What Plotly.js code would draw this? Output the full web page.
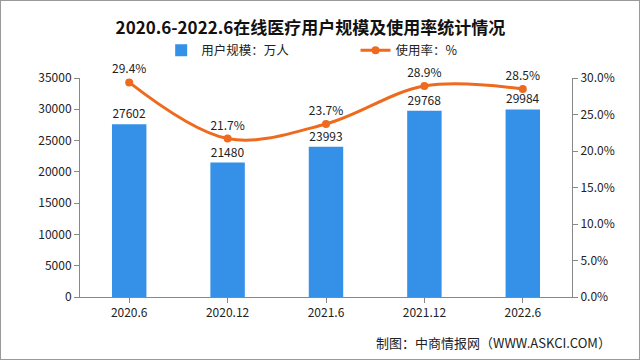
<!DOCTYPE html>
<html><head><meta charset="utf-8">
<script src="https://cdn.plot.ly/plotly-3.0.1.min.js"></script>
<style>html,body{margin:0;padding:0;background:#fff}#c{width:638px;height:358px;border:1px solid #9a9a9a}</style>
</head><body><div id="c"></div>
<script>
const categories = ['2020.6','2020.12','2021.6','2021.12','2022.6'];
const users = [27602, 21480, 23993, 29768, 29984];
const rate = [29.4, 21.7, 23.7, 28.9, 28.5];
const font = 'Noto Sans CJK SC, sans-serif';
const traces = [
  {type:'bar', x:categories, y:users, name:'用户规模：万人', marker:{color:'#3590E8'}, width:0.35,
   text:users.map(String), textposition:'outside', cliponaxis:false, textfont:{size:12,color:'#222'}, legend:'legend'},
  {type:'scatter', mode:'lines+markers+text', x:categories, y:rate, yaxis:'y2', name:'使用率：%',
   line:{color:'#EE6A1E', width:3, shape:'spline', smoothing:1}, marker:{color:'#EE6A1E', size:8},
   text:rate.map(v=>v.toFixed(1)+'%'), textposition:'top center', textfont:{size:12,color:'#222'}, cliponaxis:false, legend:'legend2'}
];
const legBase = {orientation:'h', xanchor:'left', y:1.125, yanchor:'middle', font:{size:12.5}, bgcolor:'rgba(0,0,0,0)'};
const layout = {
  width:638, height:358,
  margin:{l:79, r:67, t:77, b:62},
  paper_bgcolor:'#fff', plot_bgcolor:'rgba(0,0,0,0)',
  font:{family:font, size:12, color:'#222'},
  title:{text:'<b>2020.6-2022.6在线医疗用户规模及使用率统计情况</b>', x:0.485, xanchor:'center', y:0.925, yref:'container', yanchor:'middle', font:{size:17, color:'#111'}},
  showlegend:true,
  legend:Object.assign({}, legBase, {x:0.165}),
  legend2:Object.assign({}, legBase, {x:0.56}),
  xaxis:{type:'category', range:[-0.5,4.5], showline:true, linecolor:'#888', ticks:'outside', tickcolor:'#888', ticklen:5, showgrid:false, tickfont:{size:12}},
  yaxis:{range:[0,35000], dtick:5000, tickformat:'d', showline:true, linecolor:'#888', ticks:'outside', tickcolor:'#888', ticklen:5, showgrid:false, zeroline:false, tickfont:{size:12}},
  yaxis2:{range:[0,30], dtick:5, overlaying:'y', side:'right', showline:true, linecolor:'#888', ticks:'outside', tickcolor:'#888', ticklen:5, showgrid:false, zeroline:false, tickformat:'.1f', ticksuffix:'%', tickfont:{size:12}},
  annotations:[{text:'制图：中商情报网（WWW.ASKCI.COM）', xref:'paper', yref:'paper', x:1.083, xanchor:'right', y:-0.21, yanchor:'middle', showarrow:false, font:{size:13, color:'#222'}}]
};
Plotly.newPlot('c', traces, layout, {displayModeBar:false, staticPlot:true});
</script></body></html>
